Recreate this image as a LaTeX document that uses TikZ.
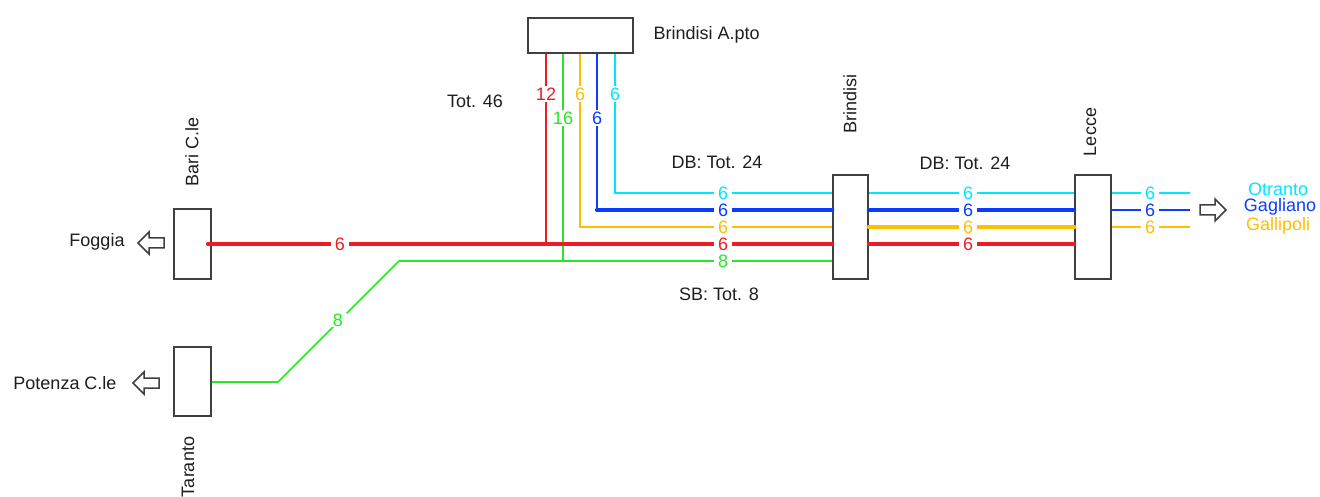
\documentclass[tikz,border=0pt]{standalone}
\usepackage{fontspec}
\setmainfont{Liberation Sans}
\definecolor{boxgray}{RGB}{64,64,64}
\definecolor{txt}{RGB}{30,30,30}
\definecolor{cred}{RGB}{237,28,36}
\definecolor{cgreen}{RGB}{40,230,40}
\definecolor{corange}{RGB}{255,190,0}
\definecolor{cblue}{RGB}{10,60,255}
\definecolor{ccyan}{RGB}{0,230,255}
\begin{document}
\begin{tikzpicture}[x=1pt,y=-1pt,
  every node/.style={font=\fontsize{18}{20}\selectfont, text=txt},
  box/.style={draw=boxgray, line width=1.6pt, inner sep=0pt},
  thin/.style={line width=1.7pt, line join=miter},
  thick/.style={line width=4.2pt, line cap=round},
  lbl/.style={fill=white, inner xsep=4pt, inner ysep=1pt},
  openarrow/.pic={\draw[boxgray, line width=1.5pt, line join=miter] (-13,-5) -- (2,-5) -- (2,-11) -- (13,0) -- (2,11) -- (2,5) -- (-13,5) -- cycle;}
]
\useasboundingbox (0,0) rectangle (1320,497);

% boxes
\node[box, minimum width=105pt, minimum height=35pt] (apto) at (580.5,35.5) {};
\node[box, minimum width=37pt, minimum height=70pt] (bari) at (192.5,244) {};
\node[box, minimum width=37pt, minimum height=69pt] (taranto) at (192.5,381.5) {};
\node[box, minimum width=35pt, minimum height=104pt] (brindisi) at (850.5,227) {};
\node[box, minimum width=36pt, minimum height=104pt] (lecce) at (1093,227) {};

% coordinates
\coordinate (rv) at (546,244);
\coordinate (gv) at (563,261);
\coordinate (ov) at (580,227);
\coordinate (bv) at (597,210);
\coordinate (cv) at (615,193);
\coordinate (tg1) at (278,382);
\coordinate (tg2) at (399,261);
\coordinate (rs) at (208,244);
\coordinate (ce) at (1190,193);
\coordinate (be) at (1190,210);
\coordinate (oe) at (1190,227);

% Brindisi A.pto verticals
\draw[thin, cred] (apto.south -| rv) -- (rv);
\node[lbl, inner xsep=1pt, inner ysep=2pt, text=cred] (l12) at (546,94) {12};
\draw[thin, cgreen] (apto.south -| gv) -- (gv);
\node[lbl, inner xsep=1pt, inner ysep=2pt, text=cgreen] (l16) at (563,118) {16};
\draw[thin, corange] (apto.south -| ov) -- (ov) -- (brindisi.west |- ov);
\node[lbl, inner xsep=1pt, inner ysep=2pt, text=corange] (lo1) at (580,94) {6};
\node[lbl, text=corange] (lo2) at (723,227) {6};
\draw[thin, cblue] (apto.south -| bv) -- (bv);
\draw[thick, cblue] (bv) -- (brindisi.west |- bv);
\node[lbl, inner xsep=1pt, inner ysep=2pt, text=cblue] (lb1) at (597,118) {6};
\node[lbl, text=cblue] (lb2) at (723,210) {6};
\draw[thin, ccyan] (apto.south -| cv) -- (cv) -- (brindisi.west |- cv);
\node[lbl, inner xsep=1pt, inner ysep=2pt, text=ccyan] (lc1) at (615,94) {6};
\node[lbl, text=ccyan] (lc2) at (723,193) {6};

% Bari -> Brindisi
\draw[thick, cred] (rs) -- (brindisi.west |- rs);
\node[lbl, text=cred] (lr1) at (340,244) {6};
\node[lbl, text=cred] (lr2) at (723,244) {6};

% Taranto -> Brindisi
\draw[thin, cgreen] (taranto.east |- tg1) -- (tg1) -- (tg2) -- (brindisi.west |- tg2);
\node[lbl, text=cgreen] (lg1) at (338,320) {8};
\node[lbl, text=cgreen] (lg2) at (723,261) {8};

% Brindisi -> Lecce
\draw[thin, ccyan] (brindisi.east |- cv) -- (lecce.west |- cv);
\draw[thick, cblue] (brindisi.east |- bv) -- (lecce.west |- bv);
\draw[thick, corange] (brindisi.east |- ov) -- (lecce.west |- ov);
\draw[thick, cred] (brindisi.east |- rv) -- (lecce.west |- rv);
\node[lbl, text=ccyan] (m1) at (968,193) {6};
\node[lbl, text=cblue] (m2) at (968,210) {6};
\node[lbl, text=corange] (m3) at (968,227) {6};
\node[lbl, text=cred] (m4) at (968,244) {6};

% Lecce -> right
\draw[thin, ccyan] (lecce.east |- ce) -- (ce);
\draw[thin, cblue] (lecce.east |- be) -- (be);
\draw[thin, corange] (lecce.east |- oe) -- (oe);
\node[lbl, text=ccyan] (r1) at (1150,193) {6};
\node[lbl, text=cblue] (r2) at (1150,210) {6};
\node[lbl, text=corange] (r3) at (1150,227) {6};

% arrows
\pic at (1213,210) {openarrow};
\pic[rotate=180] at (151,243) {openarrow};
\pic[rotate=180] at (146,383) {openarrow};

% texts
\node[anchor=west] (taptoname) at (650,35) {Brindisi A.pto};
\node (tot46) at (475,101) {Tot. 46};
\node (db1) at (717,162) {DB: Tot. 24};
\node (db2) at (965,163) {DB: Tot. 24};
\node (sb) at (719,294) {SB: Tot. 8};
\node[rotate=90] (tbrindisi) at (850,104) {Brindisi};
\node[rotate=90] (tlecce) at (1090,132) {Lecce};
\node[rotate=90] (tbari) at (192,152) {Bari C.le};
\node[rotate=90] (ttaranto) at (188,467) {Taranto};
\node (tfoggia) at (97,242) {Foggia};
\node (tpotenza) at (65,383) {Potenza C.le};
\node[text=ccyan] (totranto) at (1278,189) {Otranto};
\node[text=cblue] (tgagliano) at (1280,207) {Gagliano};
\node[text=corange] (tgallipoli) at (1278,226) {Gallipoli};
\end{tikzpicture}
\end{document}
